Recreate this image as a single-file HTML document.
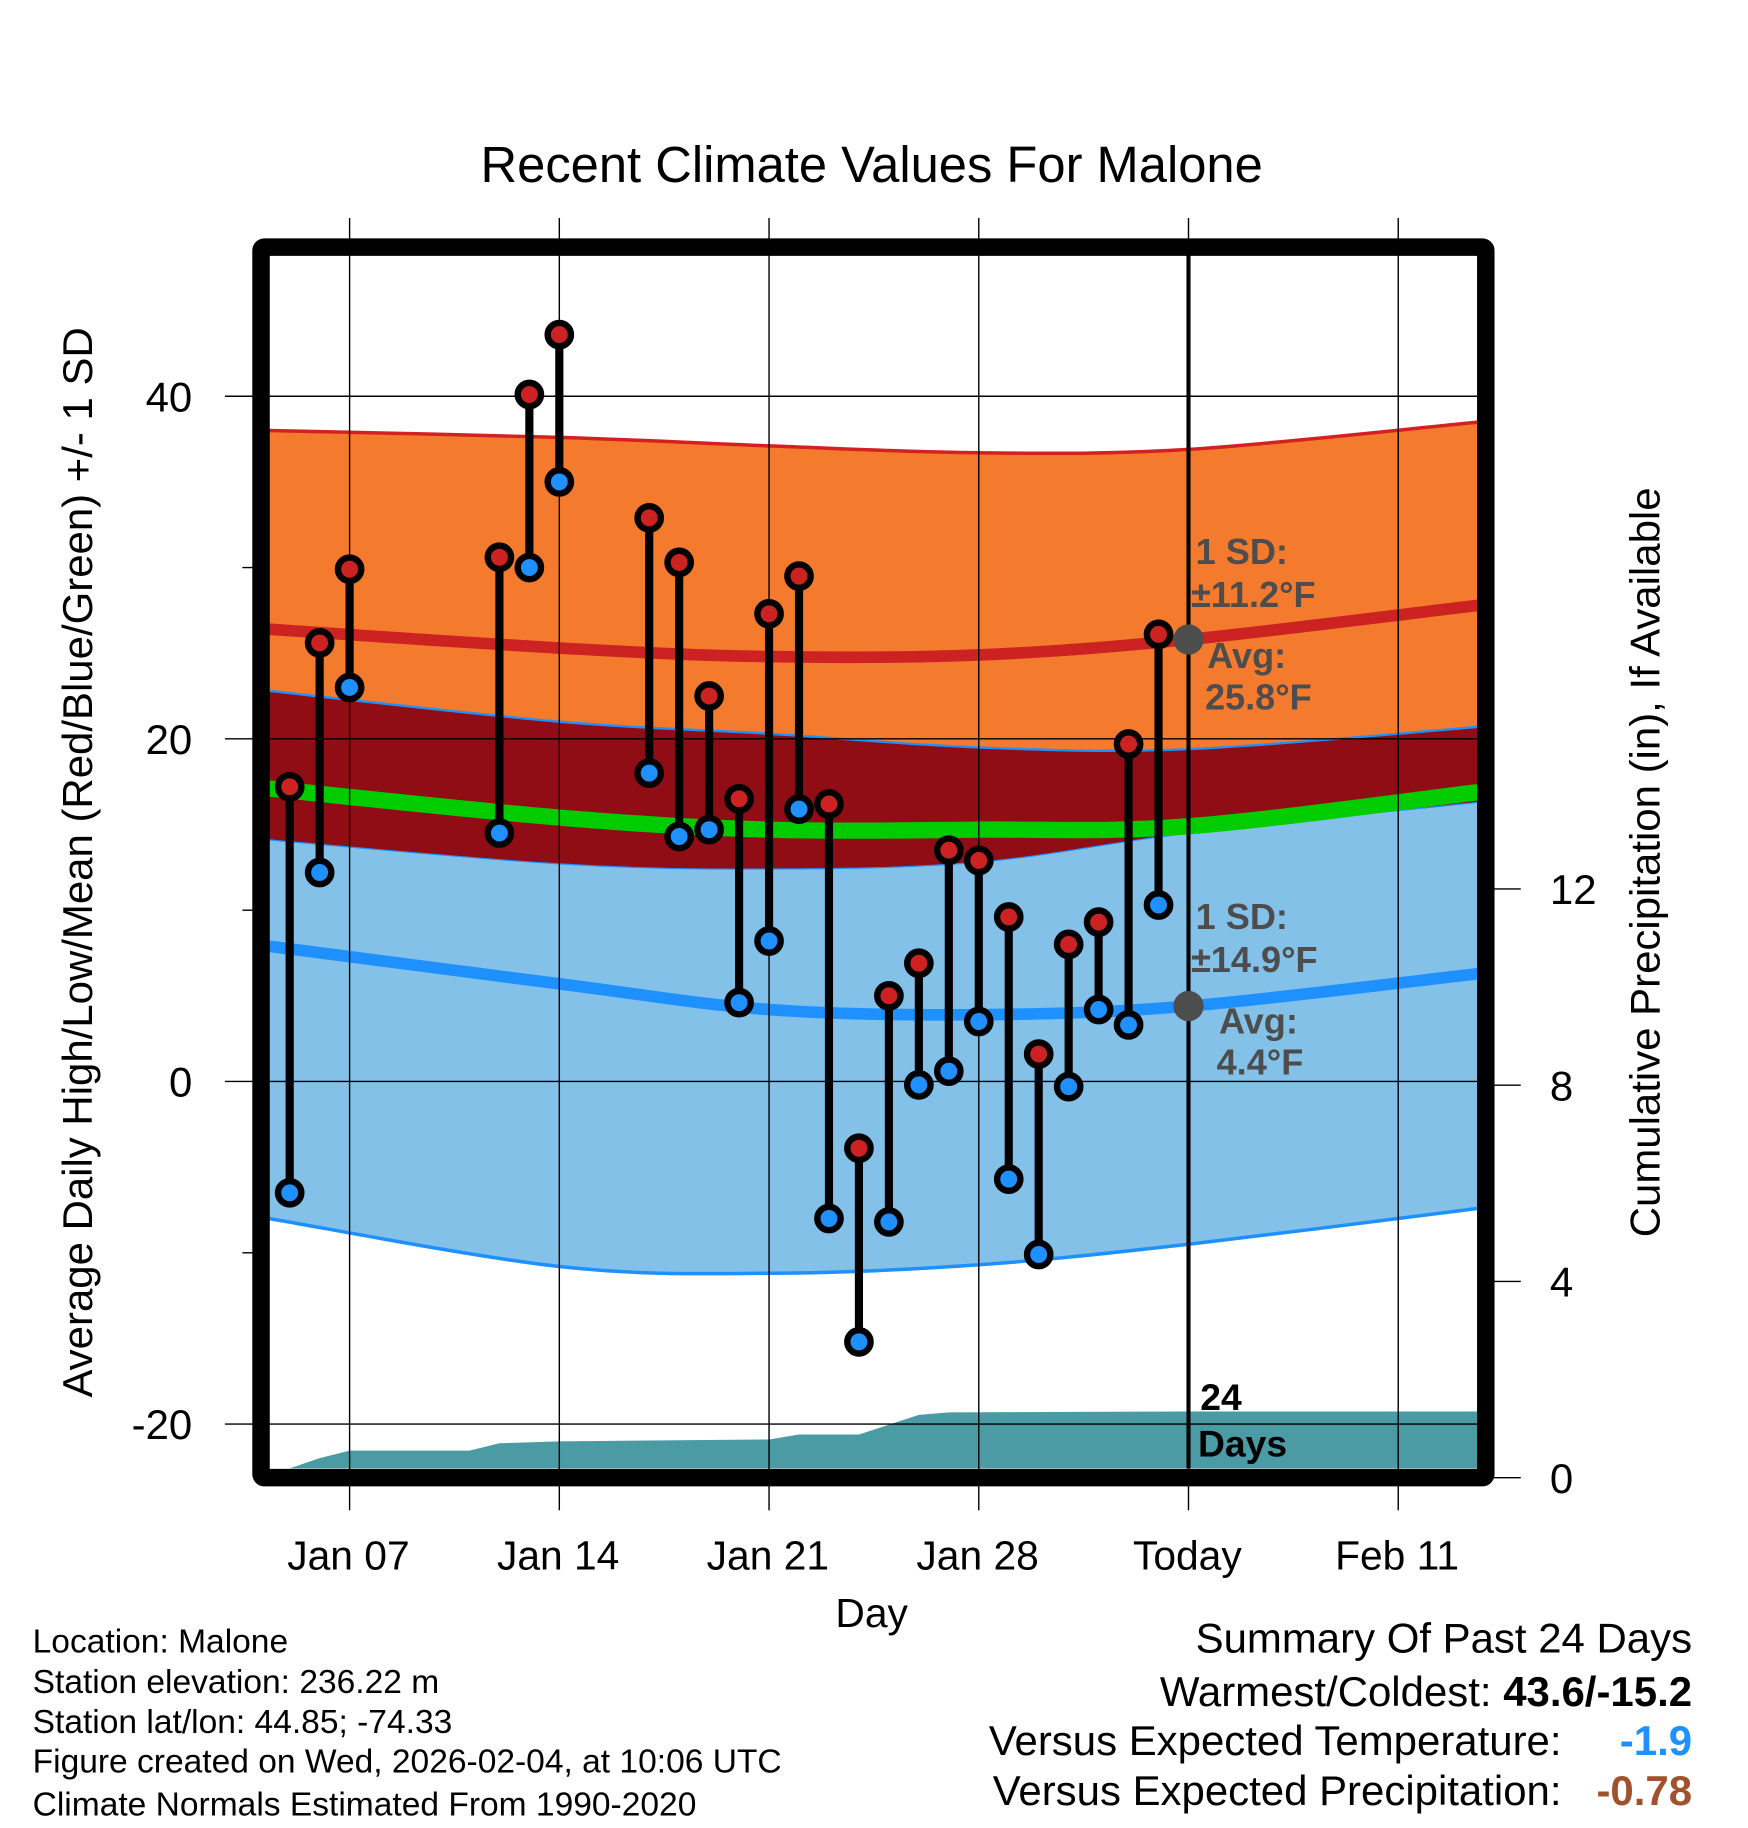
<!DOCTYPE html>
<html><head><meta charset="utf-8"><style>
html,body{margin:0;padding:0;background:#fff}
svg{display:block}
text{font-family:"Liberation Sans",sans-serif}
</style></head><body>
<svg id="chart" width="1748" height="1828" viewBox="0 0 1500 1568.6" xmlns="http://www.w3.org/2000/svg">
<g id="bands"></g>
<g id="grid"></g>
<g id="marks"></g>
<g id="frame"></g>
<g id="labels"></g>
</svg>
<script>
// ---- data ----
const days = [5,6,7,12,13,14,17,18,19,20,21,22,23,24,25,26,27,28,29,30,31,32,33,34];
const highs = [17.2,25.6,29.9,30.6,40.1,43.6,32.9,30.3,22.5,16.5,27.3,29.5,16.2,-3.9,5.0,6.9,13.5,12.9,9.6,1.6,8.0,9.3,19.7,26.1];
const lows = [-6.5,12.2,23.0,14.5,30.0,35.0,18.0,14.3,14.7,4.6,8.2,15.9,-8.0,-15.2,-8.2,-0.2,0.6,3.5,-5.7,-10.1,-0.3,4.2,3.3,10.3];
const normDays = [4.3,14,21,28,35,44.7];
const normHighUpper = [38.0,37.6,37.1,36.7,36.9,38.5];
const normHighAvg = [26.4,25.3,24.8,24.9,25.8,27.8];
const normHighLower = [22.8,21.0,20.3,19.5,19.4,20.7];
const normMean = [17.1,15.4,14.7,14.7,14.9,16.9];
const normLowUpper = [14.1,12.7,12.4,12.8,14.5,16.3];
const normLowAvg = [7.9,5.7,4.2,3.9,4.4,6.3];
const normLowLower = [-8.0,-10.8,-11.2,-10.7,-9.5,-7.4];
const precipDays = [4.3,5,6,7,11,12,14,21,22,24,26,27,35,44.7];
const precipVals = [0,0.05,0.4,0.55,0.55,0.7,0.74,0.78,0.88,0.88,1.28,1.33,1.35,1.35];
const xTickDays = [7,14,21,28,35,42];
const xTickLabels = ["Jan 07","Jan 14","Jan 21","Jan 28","Today","Feb 11"];
const yTicks = [40,20,0,-20];
const yMinor = [30,10,-10];
const pTicks = [0,4,8,12];

// ---- axes ----
const X = d => 300 + (d-7)*25.71;
const Y = v => 928 - v*14.7;
const P = v => 1268 - v*42.1;
const L=231,R=1268,T=219,B=1260;
const NS="http://www.w3.org/2000/svg";
function mk(tag,attrs,parent){const e=document.createElementNS(NS,tag);for(const k in attrs)e.setAttribute(k,attrs[k]);parent.appendChild(e);return e;}
const bands=document.getElementById('bands'),grid=document.getElementById('grid'),marks=document.getElementById('marks'),frame=document.getElementById('frame'),labels=document.getElementById('labels');
function xy(ds,vs){return ds.map((d,i)=>[X(d),Y(vs[i])]);}
function smooth(p,start){
  let s=(start?'M':'L')+p[0][0].toFixed(1)+','+p[0][1].toFixed(1);
  for(let i=0;i<p.length-1;i++){
    const p0=p[Math.max(0,i-1)],p1=p[i],p2=p[i+1],p3=p[Math.min(p.length-1,i+2)];
    const c1=[p1[0]+(p2[0]-p0[0])/6,p1[1]+(p2[1]-p0[1])/6];
    const c2=[p2[0]-(p3[0]-p1[0])/6,p2[1]-(p3[1]-p1[1])/6];
    s+=' C'+c1[0].toFixed(1)+','+c1[1].toFixed(1)+' '+c2[0].toFixed(1)+','+c2[1].toFixed(1)+' '+p2[0].toFixed(1)+','+p2[1].toFixed(1);
  }
  return s;
}
function band(up,lo,fill,name){
  const d=smooth(xy(normDays,up),true)+' '+smooth(xy(normDays,lo).reverse(),false)+' Z';
  const e=mk('path',{d:d,fill:fill},bands);
  
  
}
band(normHighUpper,normHighLower,'#f47a2e','high-sd-band');
band(normHighLower,normLowUpper,'#910d15','overlap-band');
band(normLowUpper,normLowLower,'#83c1e8','low-sd-band');
function line(vals,color,w,name){
  const e=mk('path',{d:smooth(xy(normDays,vals),true),fill:'none',stroke:color,'stroke-width':w},bands);
  
  
}
line(normHighUpper,'#d42020',3,'high-upper-line');
line(normHighLower,'#1e90ff',2,'high-lower-line');
line(normLowUpper,'#1e90ff',1,'low-upper-line');
line(normLowLower,'#1e90ff',3,'low-lower-line');
line(normHighAvg,'#cc2222',10,'high-avg-line');
line(normLowAvg,'#1e90ff',10,'low-avg-line');
line(normMean,'#00cc00',14,'mean-line');
// precip
{
  const p=[X(precipDays[0])+','+B].concat(precipDays.map((d,i)=>X(d).toFixed(1)+','+Math.min(B,P(precipVals[i])).toFixed(1))).concat([X(precipDays[precipDays.length-1])+','+B]).join(' ');
  const e=mk('polygon',{points:p,fill:'#4a9ba3'},bands);
  
  
}
// grid
xTickDays.forEach((d,i)=>{
  const e=mk('line',{x1:X(d),x2:X(d),y1:187,y2:1296,stroke:'#000','stroke-width':1.2},grid);
  
  
  const t=mk('text',{x:X(d)-1,y:1347,'font-size':35,'text-anchor':'middle'},labels);
  t.textContent=xTickLabels[i];
  
  
});
yTicks.forEach(v=>{
  const e=mk('line',{x1:193,x2:R,y1:Y(v),y2:Y(v),stroke:'#000','stroke-width':1.2},grid);
  
  
  const t=mk('text',{x:165,y:Y(v)+13,'font-size':36,'text-anchor':'end'},labels);
  t.textContent=v;
  
  
});
yMinor.forEach(v=>{
  const e=mk('line',{x1:208,x2:224,y1:Y(v),y2:Y(v),stroke:'#000','stroke-width':1.2},grid);
  
  
});
pTicks.forEach(v=>{
  const e=mk('line',{x1:1275,x2:1305,y1:P(v),y2:P(v),stroke:'#000','stroke-width':1.2},grid);
  
  
  const t=mk('text',{x:1330,y:P(v)+13,'font-size':36},labels);
  t.textContent=v;
  
  
});
// today line
{const e=mk('line',{x1:X(35),x2:X(35),y1:T,y2:B,stroke:'#000','stroke-width':3.5},grid);

}
// marks
days.forEach((d,i)=>{
  const s=mk('line',{x1:X(d),x2:X(d),y1:Y(highs[i]),y2:Y(lows[i]),stroke:'#000','stroke-width':7},marks);
  
  
});
days.forEach((d,i)=>{
  const h=mk('circle',{cx:X(d),cy:Y(highs[i]),r:10,fill:'#cc2222',stroke:'#000','stroke-width':5.5},marks);
  
  
  const l=mk('circle',{cx:X(d),cy:Y(lows[i]),r:10,fill:'#1e90ff',stroke:'#000','stroke-width':5.5},marks);
  
  
});
// avg dots
[[normHighAvg[4],'high-avg-dot'],[normLowAvg[4],'low-avg-dot']].forEach(a=>{
  const c=mk('circle',{cx:X(35),cy:Y(a[0]),r:13,fill:'#4d4d4d'},marks);
  
  
});
// frame
{const f=mk('rect',{x:224,y:212,width:1051,height:1056,fill:'none',stroke:'#000','stroke-width':15,rx:3},frame);

}
</script>
<script>
(function(){
const NS="http://www.w3.org/2000/svg";
const labels=document.getElementById('labels');
function t(x,y,s,txt,name,o){const e=document.createElementNS(NS,'text');e.setAttribute('x',x);e.setAttribute('y',y);e.setAttribute('font-size',s);
for(const k in (o||{}))e.setAttribute(k,o[k]);e.innerHTML=txt;


labels.appendChild(e);return e;}
const g={fill:'#4d4d4d','font-weight':'bold'};
t(748,156,43.5,'Recent Climate Values For Malone','chart-title',{'text-anchor':'middle'});
t(0,0,36,'Average Daily High/Low/Mean (Red/Blue/Green) +/- 1 SD','y-axis-title',{'text-anchor':'middle',transform:'translate(79,740) rotate(-90)'});
t(0,0,36,'Cumulative Precipitation (in), If Available','precip-axis-title',{'text-anchor':'middle',transform:'translate(1424,740) rotate(-90)'});
t(748,1396,35,'Day','x-axis-title',{'text-anchor':'middle'});
t(1026,484,31,'1 SD:','high-sd-label',g);
t(1022,521,31,'±11.2°F','high-sd-value',g);
t(1036,573,31,'Avg:','high-avg-label',g);
t(1034,609,31,'25.8°F','high-avg-value',g);
t(1026,797,31,'1 SD:','low-sd-label',g);
t(1022,834,31,'±14.9°F','low-sd-value',g);
t(1046,887,31,'Avg:','low-avg-label',g);
t(1044,922,31,'4.4°F','low-avg-value',g);
t(1030,1210,32,'24','days-count',{'font-weight':'bold'});
t(1028,1250,32,'Days','days-label',{'font-weight':'bold'});
const info=['Location: Malone','Station elevation: 236.22 m','Station lat/lon: 44.85; -74.33','Figure created on Wed, 2026-02-04, at 10:06 UTC','Climate Normals Estimated From 1990-2020'];
const iy=[1418,1453,1487,1521,1558];
info.forEach((s,i)=>t(28,iy[i],28.8,s,'info-line'));
t(1452,1418,36,'Summary Of Past 24 Days','summary-title',{'text-anchor':'end'});
t(1452,1464,36,'Warmest/Coldest: <tspan font-weight="bold">43.6/-15.2</tspan>','summary-extremes',{'text-anchor':'end'});
t(1340,1506,36,'Versus Expected Temperature:','summary-temp-label',{'text-anchor':'end'});
t(1452,1506,36,'-1.9','summary-temp-value',{'text-anchor':'end',fill:'#1e90ff','font-weight':'bold'});
t(1340,1549,36,'Versus Expected Precipitation:','summary-precip-label',{'text-anchor':'end'});
t(1452,1549,36,'-0.78','summary-precip-value',{'text-anchor':'end',fill:'#a0522d','font-weight':'bold'});
})();
</script>
</body></html>
